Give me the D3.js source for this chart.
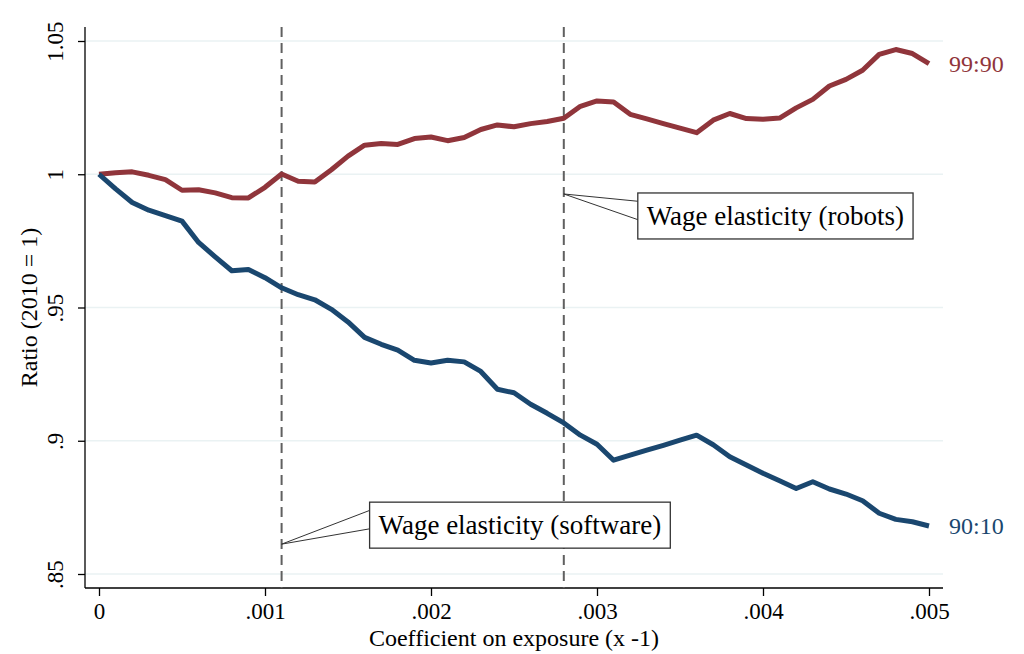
<!DOCTYPE html>
<html>
<head>
<meta charset="utf-8">
<script src="https://cdn.jsdelivr.net/npm/d3@7"></script>
<style>
  body { margin: 0; background: #fff; }
  text { font-family: "Liberation Serif", "Times New Roman", serif; }
</style>
</head>
<body>
<svg id="chart" width="1024" height="654"></svg>
<script>
// exposure coefficient, 0 to .005 in steps of .0001
var coef = d3.range(51).map(function (i) { return +(i * 0.0001).toFixed(4); });

var ratio9990 = [
    1.000, 1.0006, 1.0009, 0.9996, 0.998, 0.994, 0.9942, 0.993, 0.9912, 0.9911,
    0.9951, 1.0001, 0.9974, 0.9971, 1.0017, 1.0068, 1.0109, 1.0115, 1.0112, 1.0134,
    1.014, 1.0126, 1.0138, 1.0168, 1.0185, 1.0178, 1.019, 1.0198, 1.021, 1.0255,
    1.0275, 1.0271, 1.0225, 1.0208, 1.019, 1.0173, 1.0156, 1.0203, 1.0228, 1.0209,
    1.0206, 1.0211, 1.0249, 1.0281, 1.0331, 1.0356, 1.039, 1.045, 1.0468, 1.0453,
    1.0415
];

var ratio9010 = [
    1.000, 0.9945, 0.9894, 0.9865, 0.9845, 0.9824, 0.9744, 0.969, 0.9638, 0.9643,
    0.9612, 0.9574, 0.9548, 0.9529, 0.9493, 0.9446, 0.9388, 0.9362, 0.934, 0.9302,
    0.9292, 0.9302, 0.9296, 0.926, 0.9193, 0.918, 0.9137, 0.9103, 0.9067, 0.9021,
    0.8987, 0.8927, 0.8946, 0.8965, 0.8983, 0.9002, 0.9021, 0.8985, 0.894, 0.8909,
    0.8878, 0.885, 0.8821, 0.8846, 0.8819, 0.88, 0.8775, 0.8728, 0.8705, 0.8696,
    0.868
];

var yTicks = [0.85, 0.9, 0.95, 1, 1.05];
var yTickLabels = [".85", ".9", ".95", "1", "1.05"];
var xTicks = [0, 0.001, 0.002, 0.003, 0.004, 0.005];
var xTickLabels = ["0", ".001", ".002", ".003", ".004", ".005"];

// reference lines and their callouts
var refLines = [0.0011, 0.0028];
var callouts = [
    { x: 0.0028, y: 0.9926, label: "Wage elasticity (robots)" },
    { x: 0.0011, y: 0.8612, label: "Wage elasticity (software)" }
];

var seriesNames = ["99:90", "90:10"];
var colors = { "99:90": "#90353b", "90:10": "#1a476f" };

var svg = d3.select("#chart");

var x = d3.scaleLinear().domain([0, 0.005]).range([99, 929]);
var y = d3.scaleLinear().domain([0.85, 1.05]).range([574, 41]);
var pad = 14;
var plotLeft = x(0) - pad, plotRight = x(0.005) + pad;
var plotTop = y(1.05) - pad, plotBottom = y(0.85) + pad;

// gridlines
svg.append("g").selectAll("line")
    .data(yTicks)
    .enter().append("line")
    .attr("x1", plotLeft).attr("x2", plotRight)
    .attr("y1", function (d) { return y(d); })
    .attr("y2", function (d) { return y(d); })
    .attr("stroke", "#eaf2f3")
    .attr("stroke-width", 1.6);

// y axis
var yAxis = svg.append("g")
    .attr("transform", "translate(" + plotLeft + ",0)")
    .call(d3.axisLeft(y).tickValues(yTicks)
        .tickFormat(function (d, i) { return yTickLabels[i]; })
        .tickSize(7).tickSizeOuter(0));
yAxis.select(".domain").remove();
yAxis.append("line")
    .attr("x1", 0).attr("x2", 0).attr("y1", plotTop).attr("y2", plotBottom)
    .attr("stroke", "#000").attr("stroke-width", 1.3);
yAxis.selectAll(".tick line").attr("stroke-width", 1.3);
yAxis.selectAll(".tick text")
    .attr("x", 0).attr("y", 0).attr("dy", null)
    .attr("transform", "translate(-22,0) rotate(-90)")
    .attr("text-anchor", "middle")
    .style("font-size", "23px")
    .attr("fill", "#000");

// x axis
var xAxis = svg.append("g")
    .attr("transform", "translate(0," + plotBottom + ")")
    .call(d3.axisBottom(x).tickValues(xTicks)
        .tickFormat(function (d, i) { return xTickLabels[i]; })
        .tickSize(8).tickSizeOuter(0));
xAxis.select(".domain").remove();
xAxis.append("line")
    .attr("x1", plotLeft).attr("x2", plotRight).attr("y1", 0).attr("y2", 0)
    .attr("stroke", "#000").attr("stroke-width", 1.3);
xAxis.selectAll(".tick line").attr("stroke-width", 1.3);
xAxis.selectAll(".tick text")
    .attr("y", 31).attr("dy", null)
    .style("font-size", "23px")
    .attr("fill", "#000");

// axis titles
svg.append("text")
    .attr("x", (plotLeft + plotRight) / 2).attr("y", 646)
    .attr("text-anchor", "middle")
    .style("font-size", "24px")
    .text("Coefficient on exposure (x -1)");

svg.append("text")
    .attr("transform", "translate(37," + ((plotTop + plotBottom) / 2) + ") rotate(-90)")
    .attr("text-anchor", "middle")
    .style("font-size", "24px")
    .text("Ratio (2010 = 1)");

// dashed reference lines
svg.append("g").selectAll("line")
    .data(refLines)
    .enter().append("line")
    .attr("x1", function (d) { return x(d); })
    .attr("x2", function (d) { return x(d); })
    .attr("y1", plotTop).attr("y2", plotBottom)
    .attr("stroke", "#606060")
    .attr("stroke-width", 2)
    .attr("stroke-dasharray", "10,6");

// series lines
var series = { "99:90": ratio9990, "90:10": ratio9010 };
var line = d3.line()
    .x(function (d, i) { return x(coef[i]); })
    .y(function (d) { return y(d); });

seriesNames.forEach(function (key) {
    var vals = series[key];
    svg.append("path")
        .datum(vals)
        .attr("fill", "none")
        .attr("stroke", colors[key])
        .attr("stroke-width", 5)
        .attr("stroke-linejoin", "round")
        .attr("d", line);
    svg.append("text")
        .attr("x", x(coef[coef.length - 1]) + 20)
        .attr("y", y(vals[vals.length - 1]))
        .attr("dy", "0.35em")
        .attr("fill", colors[key])
        .style("font-size", "24px")
        .text(key);
});

// callout boxes with pointer lines
callouts.forEach(function (c) {
    var px = x(c.x), py = y(c.y);
    var g = svg.append("g");
    var t = g.append("text")
        .style("font-size", "27px")
        .attr("fill", "#000")
        .text(c.label);
    var w = t.node().getComputedTextLength();
    var bx = px + 74, bh = 46;
    var by = py - 1;
    if (c.label.indexOf("software") >= 0) { bx = px + 88; by = py - 42; }
    g.insert("rect", "text")
        .attr("x", bx).attr("y", by)
        .attr("width", w + 18).attr("height", bh)
        .attr("fill", "#fff")
        .attr("stroke", "#333").attr("stroke-width", 1.3);
    t.attr("x", bx + 9).attr("y", by + bh / 2).attr("dy", "0.33em");
    [by + 0.18 * bh, by + 0.58 * bh].forEach(function (ey) {
        g.append("line")
            .attr("x1", px).attr("y1", py)
            .attr("x2", bx).attr("y2", ey)
            .attr("stroke", "#333").attr("stroke-width", 1);
    });
});
</script>
</body>
</html>
